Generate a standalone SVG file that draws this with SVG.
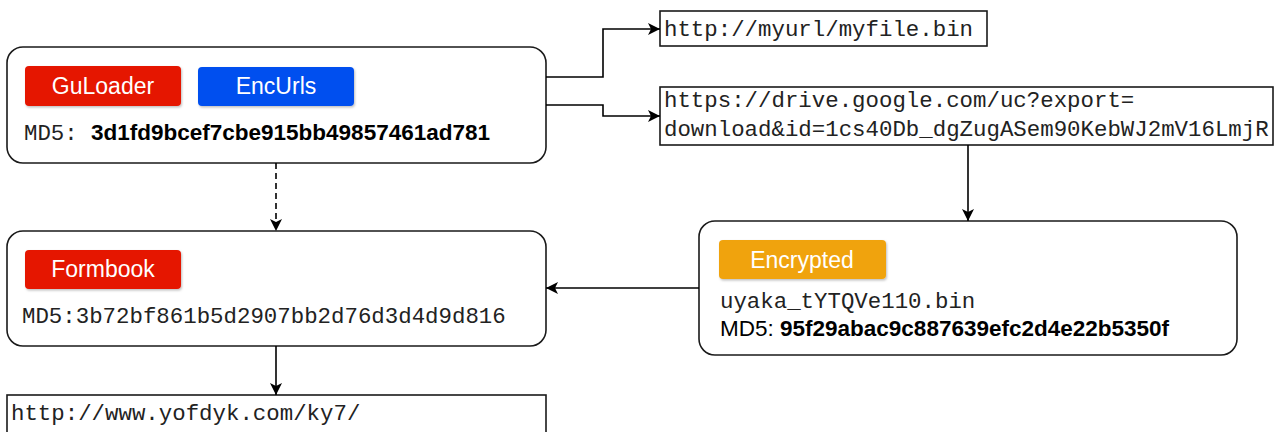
<svg xmlns="http://www.w3.org/2000/svg" width="1276" height="432" viewBox="0 0 1276 432">
  <defs>
    <marker id="arrow" markerUnits="userSpaceOnUse" markerWidth="14" markerHeight="14" refX="12" refY="6" orient="auto">
      <path d="M0,0 L12,6 L0,12 L3,6 Z" fill="#000"/>
    </marker>
    <filter id="badgeShadow" x="-10%" y="-20%" width="120%" height="150%">
      <feDropShadow dx="1" dy="1.5" stdDeviation="1" flood-color="#000" flood-opacity="0.25"/>
    </filter>
    <style>
      .card { fill: #fff; stroke: #1a1a1a; stroke-width: 1.6; }
      .plain { fill: #fff; stroke: #1a1a1a; stroke-width: 1.6; }
      .badge { stroke: none; filter: url(#badgeShadow); }
      .badge-text { font-family: "Liberation Sans", Arial, sans-serif; font-size: 23px; fill: #fff; text-anchor: middle; }
      .mono { font-family: "Liberation Mono", "Courier New", monospace; font-size: 22.4px; fill: #222; }
      .sans { font-family: "Liberation Sans", Arial, sans-serif; font-size: 22.5px; fill: #000; }
      .bold { font-weight: bold; }
      .edge { fill: none; stroke: #000; stroke-width: 1.6; }
      .dashed { stroke-dasharray: 6 4; }
    </style>
  </defs>

  <!-- loader sample -->
  <g id="guloader">
    <rect class="card" x="7" y="47" width="539" height="116" rx="16" ry="16"/>
    <rect class="badge" x="25" y="66" width="156" height="40" rx="4" fill="#e51400"/>
    <text class="badge-text" x="103" y="94">GuLoader</text>
    <rect class="badge" x="198" y="67" width="156" height="39" rx="4" fill="#0050ef"/>
    <text class="badge-text" x="276" y="94">EncUrls</text>
    <text x="24" y="140"><tspan class="mono">MD5: </tspan><tspan class="sans bold" x="91">3d1fd9bcef7cbe915bb49857461ad781</tspan></text>
  </g>

  <!-- download URLs -->
  <g id="url-myfile">
    <rect class="plain" x="660" y="11" width="327" height="35"/>
    <text class="mono" x="664" y="36">http://myurl/myfile.bin</text>
  </g>
  <g id="url-gdrive">
    <rect class="plain" x="660" y="87" width="613" height="58"/>
    <text class="mono" x="664" y="107">https://drive.google.com/uc?export=</text>
    <text class="mono" x="664" y="136">download&amp;id=1cs40Db_dgZugASem90KebWJ2mV16LmjR</text>
  </g>

  <!-- encrypted payload -->
  <g id="encrypted">
    <rect class="card" x="699" y="221" width="538" height="134" rx="16" ry="16"/>
    <rect class="badge" x="719" y="240" width="167" height="39" rx="4" fill="#f0a30a"/>
    <text class="badge-text" x="802" y="268">Encrypted</text>
    <text class="mono" x="720" y="308">uyaka_tYTQVe110.bin</text>
    <text x="720" y="336"><tspan class="sans">MD5: </tspan><tspan class="sans bold">95f29abac9c887639efc2d4e22b5350f</tspan></text>
  </g>

  <!-- final payload -->
  <g id="formbook">
    <rect class="card" x="7" y="231" width="539" height="115" rx="16" ry="16"/>
    <rect class="badge" x="25" y="250" width="156" height="39" rx="4" fill="#e51400"/>
    <text class="badge-text" x="103" y="277">Formbook</text>
    <text class="mono" x="22" y="323">MD5:3b72bf861b5d2907bb2d76d3d4d9d816</text>
  </g>

  <!-- C2 URL -->
  <g id="url-c2">
    <rect class="plain" x="7" y="395" width="539" height="50"/>
    <text class="mono" x="11" y="420">http://www.yofdyk.com/ky7/</text>
  </g>

  <!-- connectors -->
  <g id="connectors">
    <path class="edge" d="M546,77 H603 V29 H660" marker-end="url(#arrow)"/>
    <path class="edge" d="M546,105 H603 V116 H660" marker-end="url(#arrow)"/>
    <path class="edge dashed" d="M276,163 V231" marker-end="url(#arrow)"/>
    <path class="edge" d="M968,145 V221" marker-end="url(#arrow)"/>
    <path class="edge" d="M699,288 H546" marker-end="url(#arrow)"/>
    <path class="edge" d="M276,346 V395" marker-end="url(#arrow)"/>
  </g>
</svg>
